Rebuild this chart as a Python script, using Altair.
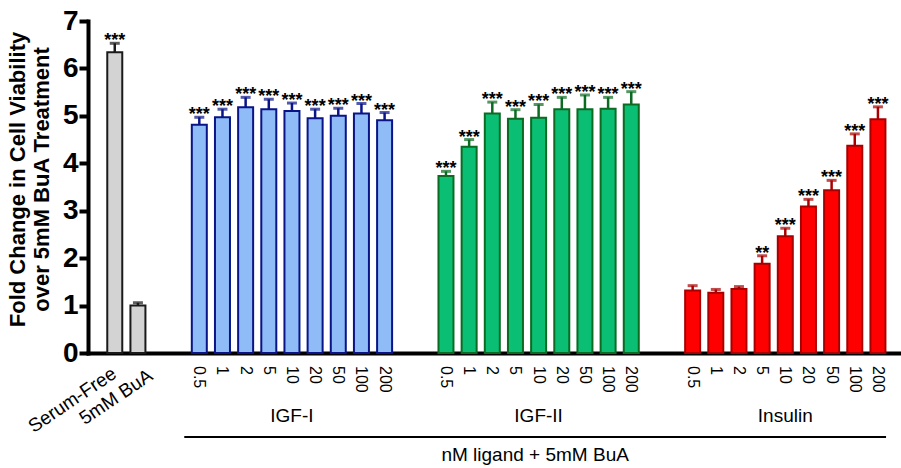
import altair as alt
import pandas as pd

# ---------------- data ----------------
ctrl_labels = ["Serum-Free", "5mM BuA"]
ctrl_mean = [6.34, 1.00]
ctrl_sem = [0.19, 0.06]
ctrl_sig = ["***", ""]

groups = ["IGF-I", "IGF-II", "Insulin"]
doses = ["0.5", "1", "2", "5", "10", "20", "50", "100", "200"]

igf1_mean = [4.81, 4.97, 5.18, 5.14, 5.10, 4.95, 5.00, 5.05, 4.91]
igf1_sem = [0.16, 0.17, 0.21, 0.21, 0.17, 0.19, 0.16, 0.21, 0.16]
igf1_sig = ["***"] * 9

igf2_mean = [3.73, 4.35, 5.05, 4.94, 4.96, 5.14, 5.14, 5.15, 5.24]
igf2_sem = [0.10, 0.15, 0.24, 0.19, 0.28, 0.25, 0.30, 0.24, 0.27]
igf2_sig = ["***"] * 9

ins_mean = [1.32, 1.27, 1.35, 1.88, 2.46, 3.09, 3.43, 4.37, 4.93]
ins_sem = [0.10, 0.07, 0.05, 0.17, 0.17, 0.15, 0.21, 0.25, 0.26]
ins_sig = ["", "", "", "**", "***", "***", "***", "***", "***"]

y_ticks = [0, 1, 2, 3, 4, 5, 6, 7]
y_title = ["Fold Change in Cell Viability", "over  5mM BuA Treatment"]
x_group_title = "nM ligand + 5mM BuA"

color_domain = ["Control", "IGF-I", "IGF-II", "Insulin"]
fill_range = ["#d3d3d3", "#8fbcf7", "#0abf74", "#ff0000"]
stroke_range = ["#1a1a1a", "#0a1487", "#0c6a22", "#a80000"]

# ---------------- layout of slots ----------------
GAP = 2.65  # empty slots between groups
rows = []
for i, (lab, m, s, sig) in enumerate(zip(ctrl_labels, ctrl_mean, ctrl_sem, ctrl_sig)):
    rows.append(dict(pos=i, label=lab, group="Control", mean=m, sem=s, sig=sig))
start = len(ctrl_labels) - 1 + GAP
group_rows = []
for g, means, sems, sigs in zip(groups, [igf1_mean, igf2_mean, ins_mean],
                                [igf1_sem, igf2_sem, ins_sem],
                                [igf1_sig, igf2_sig, ins_sig]):
    for j, (d, m, s, sig) in enumerate(zip(doses, means, sems, sigs)):
        rows.append(dict(pos=start + j, label=d, group=g, mean=m, sem=s, sig=sig))
    group_rows.append(dict(pos=start + (len(doses) - 1) / 2, label=g))
    start += len(doses) - 1 + GAP

df = pd.DataFrame(rows)
df["top"] = df["mean"] + df["sem"]
df_groups = pd.DataFrame(group_rows)
dose_df = df[df["group"] != "Control"]
first_pos = dose_df["pos"].min()
last_pos = dose_df["pos"].max()
df_bracket = pd.DataFrame([dict(pos=first_pos - 0.65, pos2=last_pos + 0.35,
                                label=x_group_title)])
df_bracket["mid"] = (df_bracket["pos"] + df_bracket["pos2"]) / 2

FONT = "Liberation Sans"

xscale = alt.Scale(domain=[-0.94, 33.73], nice=False, zero=False)
yscale = alt.Scale(domain=[0, 7], nice=False)
xaxis = alt.Axis(labels=False, ticks=False, title=None, grid=False,
                 domainWidth=4, domainColor="black", domainCap="square")
yaxis = alt.Axis(values=y_ticks, format="d", grid=False,
                 labelFont=FONT, labelFontWeight="bold", labelFontSize=28,
                 labelColor="black", labelPadding=1,
                 tickSize=9, tickWidth=4, tickColor="black",
                 domainWidth=4, domainColor="black", domainCap="square",
                 title=y_title, titleFont=FONT, titleFontSize=22,
                 titleFontWeight="bold", titleColor="black",
                 titleLineHeight=24, titleAngle=270, titleAlign="center",
                 titleBaseline="alphabetic", titleX=-64, titleY=158)


def X(field="pos"):
    return alt.X(f"{field}:Q", scale=xscale, axis=xaxis)


def Y(field="mean"):
    return alt.Y(f"{field}:Q", scale=yscale, axis=yaxis)


fill_scale = alt.Scale(domain=color_domain, range=fill_range)
stroke_scale = alt.Scale(domain=color_domain, range=stroke_range)

base = alt.Chart(df)

bars = base.mark_bar(size=15, strokeWidth=2).encode(
    x=X(), y=Y(),
    fill=alt.Fill("group:N", scale=fill_scale, legend=None),
    stroke=alt.Stroke("group:N", scale=stroke_scale, legend=None),
)

stems = base.mark_rule(strokeWidth=2.5).encode(
    x=X(), y=Y(), y2="top:Q",
    color=alt.Color("group:N", scale=stroke_scale, legend=None),
)

caps = base.mark_tick(orient="horizontal", size=10, thickness=3).encode(
    x=X(), y=Y("top"),
    color=alt.Color("group:N", scale=stroke_scale, legend=None),
)

stars = base.transform_filter(alt.datum.sig != "").mark_text(
    font=FONT, fontSize=18, fontWeight="bold", baseline="alphabetic",
    align="center", color="black", dy=3,
).encode(x=X(), y=Y("top"), text="sig:N")

dose_labels = alt.Chart(dose_df).mark_text(
    font=FONT, fontSize=16, angle=90, align="left", baseline="middle",
    dx=13, color="black",
).encode(x=X(), y=alt.Y(datum=0, scale=yscale, axis=yaxis), text="label:N")

sf_label = alt.Chart(df[df["label"] == "Serum-Free"]).mark_text(
    font=FONT, fontSize=19, angle=326, align="center", baseline="middle",
    dx=-61.5, dy=15.2, color="black",
).encode(x=X(), y=alt.Y(datum=0, scale=yscale, axis=yaxis), text="label:N")

bua_label = alt.Chart(df[df["label"] == "5mM BuA"]).mark_text(
    font=FONT, fontSize=19, angle=326, align="center", baseline="middle",
    dx=-42.8, dy=24.2, color="black",
).encode(x=X(), y=alt.Y(datum=0, scale=yscale, axis=yaxis), text="label:N")

group_labels = alt.Chart(df_groups).mark_text(
    font=FONT, fontSize=19, align="center", baseline="middle", color="black",
).encode(x=X(), y=alt.value(394.5), text="label:N")

bracket = alt.Chart(df_bracket).mark_rule(strokeWidth=2, color="black").encode(
    x=X(), x2="pos2:Q", y=alt.value(416),
)

bracket_label = alt.Chart(df_bracket).mark_text(
    font=FONT, fontSize=19, align="center", baseline="middle", color="black",
).encode(x=X("mid"), y=alt.value(434), text="label:N")

chart = alt.layer(
    bars, stems, caps, stars, dose_labels, sf_label, bua_label,
    group_labels, bracket, bracket_label,
).properties(
    width=813, height=332,
    autosize=alt.AutoSizeParams(type="none"),
    padding={"left": 88, "top": 21, "right": 0, "bottom": 115},
    background="white",
).configure(
    font=FONT,
    view=alt.ViewConfig(stroke="transparent", strokeWidth=0),
)

chart.save("out.html", embed_options={"renderer": "svg", "actions": False})
